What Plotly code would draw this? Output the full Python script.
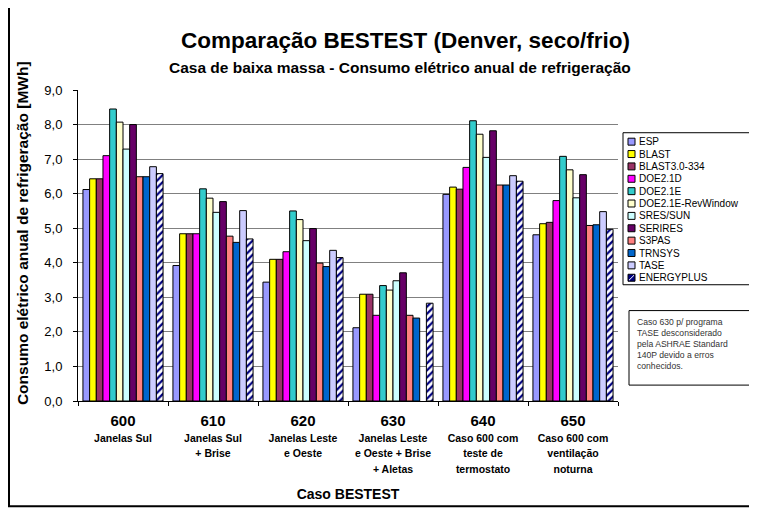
import plotly.graph_objects as go

casos = ["600", "610", "620", "630", "640", "650"]
descricoes = [
    ["Janelas Sul"],
    ["Janelas Sul", "+ Brise"],
    ["Janelas Leste", "e Oeste"],
    ["Janelas Leste", "e Oeste + Brise", "+ Aletas"],
    ["Caso 600 com", "teste de", "termostato"],
    ["Caso 600 com", "ventilação", "noturna"],
]

programas = ["ESP", "BLAST", "BLAST3.0-334", "DOE2.1D", "DOE2.1E", "DOE2.1E-RevWindow",
             "SRES/SUN", "SERIRES", "S3PAS", "TRNSYS", "TASE", "ENERGYPLUS"]

esp = [6.12, 3.92, 3.44, 2.12, 5.98, 4.81]
blast = [6.43, 4.84, 4.10, 3.09, 6.19, 5.13]
blast3 = [6.43, 4.84, 4.10, 3.09, 6.13, 5.17]
doe21d = [7.10, 4.84, 4.32, 2.48, 6.76, 5.80]
doe21e = [8.45, 6.14, 5.50, 3.34, 8.11, 7.08]
doe21e_rev = [8.07, 5.87, 5.25, 3.21, 7.72, 6.69]
sres_sun = [7.29, 5.46, 4.64, 3.48, 7.05, 5.88]
serires = [8.00, 5.77, 4.99, 3.71, 7.82, 6.55]
s3pas = [6.49, 4.77, 3.99, 2.48, 6.25, 5.08]
trnsys = [6.49, 4.59, 3.89, 2.40, 6.25, 5.10]
tase = [6.78, 5.51, 4.36, None, 6.52, 5.48]
energyplus = [6.58, 4.69, 4.15, 2.83, 6.36, 4.97]

valores = [esp, blast, blast3, doe21d, doe21e, doe21e_rev,
           sres_sun, serires, s3pas, trnsys, tase, energyplus]
cores = ["#9999FF", "#FFFF00", "#993366", "#FF00FF", "#33CCCC", "#FFFFCC",
         "#CCFFFF", "#660066", "#FF8080", "#0066CC", "#CCCCFF", "#FFFFFF"]

nota = ["Caso 630 p/ programa", "TASE desconsiderado", "pela ASHRAE Standard",
        "140P devido a erros", "conhecidos."]

font_family = "Liberation Sans, Arial, sans-serif"

# the page body adds an 8px margin, so the figure is 8px smaller and
# every position below is given in window pixels
OFF = 8
W, H = 757 - OFF, 511 - OFF
# plot area in window pixels: x 78..618, y 90..403
L, R, T, B = 78, 618, 90, 403


def px(x):
    return (x - L) / (R - L)


def py(y):
    return (B - y) / (B - T)


fig = go.Figure()
for nome, vals, cor in zip(programas, valores, cores):
    marker = dict(color=cor, line=dict(color="black", width=1))
    if nome == "ENERGYPLUS":
        marker["pattern"] = dict(shape="/", fgcolor="#000080", bgcolor="white",
                                 size=5, solidity=0.45, fillmode="replace")
    fig.add_trace(go.Bar(x=casos, y=vals, name=nome, marker=marker))

ticktext = []
for c, linhas in zip(casos, descricoes):
    partes = ["<b style='font-size:15px'>%s</b>" % c]
    partes += ["<b style='font-size:10.5px'>%s</b>" % t for t in linhas]
    ticktext.append("<br>".join(partes))

fig.update_layout(
    width=W, height=H,
    margin=dict(l=L - OFF, r=757 - R, t=T - OFF, b=511 - B),
    paper_bgcolor="white", plot_bgcolor="white",
    separators=",.",
    font=dict(family=font_family, color="black"),
    barmode="group", bargap=0.11, bargroupgap=0,
    showlegend=False,
    xaxis=dict(
        tickmode="array", tickvals=casos, ticktext=ticktext,
        tickson="boundaries", ticks="outside", ticklen=4, tickcolor="black",
        showline=True, linecolor="black", linewidth=1,
        tickfont=dict(size=12.2, family=font_family),
        ticklabelstandoff=9,
        title=dict(text="<b>Caso BESTEST</b>", font=dict(size=14), standoff=14),
    ),
    yaxis=dict(
        range=[0, 9], dtick=1, tickformat=".1f",
        showgrid=True, gridcolor="#808080", gridwidth=1,
        ticks="outside", ticklen=4, tickcolor="black",
        showline=True, linecolor="black", linewidth=1,
        tickfont=dict(size=13), ticklabelstandoff=8,
    ),
)

# titles
fig.add_annotation(xref="paper", yref="paper", x=px(405), y=py(40),
                   xanchor="center", yanchor="middle", showarrow=False,
                   text="<b>Comparação BESTEST (Denver, seco/frio)</b>",
                   font=dict(size=22.5, family=font_family))
fig.add_annotation(xref="paper", yref="paper", x=px(400), y=py(67),
                   xanchor="center", yanchor="middle", showarrow=False,
                   text="<b>Casa de baixa massa - Consumo elétrico anual de refrigeração</b>",
                   font=dict(size=15.5, family=font_family))
fig.add_annotation(xref="paper", yref="paper", x=px(22), y=py(234),
                   xanchor="center", yanchor="middle", showarrow=False, textangle=-90,
                   text="<b>Consumo elétrico anual de refrigeração [MWh]</b>",
                   font=dict(size=15.5, family=font_family))

# legend drawn by hand (compact rows like the original)
fig.add_shape(type="rect", xref="paper", yref="paper",
              x0=px(623), x1=px(751), y0=py(286), y1=py(133),
              line=dict(color="black", width=1), fillcolor="white")
row0, passo = 142, 12.45
for i, (nome, cor) in enumerate(zip(programas, cores)):
    yc = row0 + i * passo
    fill = "#000080" if nome == "ENERGYPLUS" else cor
    fig.add_shape(type="rect", xref="paper", yref="paper",
                  x0=px(628), x1=px(635), y0=py(yc + 3.5), y1=py(yc - 3.5),
                  line=dict(color="black", width=1), fillcolor=fill)
    if nome == "ENERGYPLUS":
        fig.add_shape(type="line", xref="paper", yref="paper",
                      x0=px(629), x1=px(634), y0=py(yc + 2.5), y1=py(yc - 2.5),
                      line=dict(color="white", width=1))
    fig.add_annotation(xref="paper", yref="paper", x=px(637), y=py(yc),
                       xanchor="left", yanchor="middle", showarrow=False,
                       text=nome, font=dict(size=10, family=font_family))

# note box
fig.add_shape(type="rect", xref="paper", yref="paper",
              x0=px(629), x1=px(752), y0=py(387), y1=py(312),
              line=dict(color="black", width=1), fillcolor="white")
for i, linha in enumerate(nota):
    fig.add_annotation(xref="paper", yref="paper", x=px(635), y=py(323 + 11.2 * i),
                       xanchor="left", yanchor="middle", showarrow=False,
                       text=linha, font=dict(size=8.6, color="#333333", family=font_family))

# outer frame
fig.add_shape(type="rect", xref="paper", yref="paper",
              x0=px(9), x1=px(751), y0=py(509), y1=py(6),
              line=dict(color="black", width=2), layer="below")

fig.write_html("out.html")
